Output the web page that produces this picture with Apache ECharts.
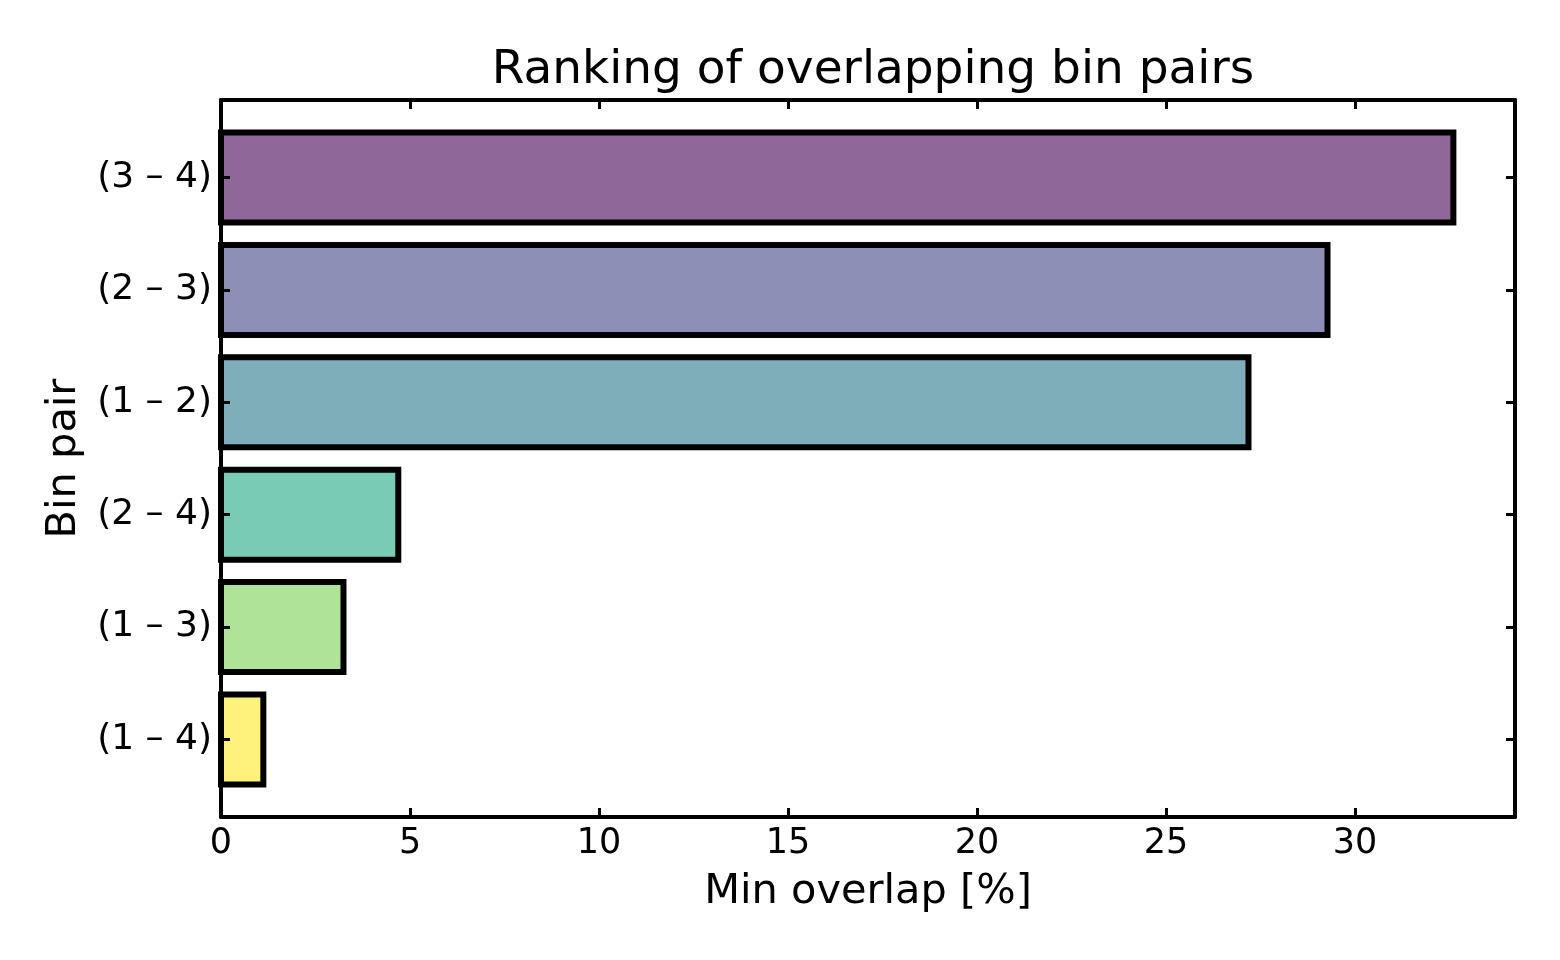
<!DOCTYPE html>
<html>
<head>
<meta charset="utf-8">
<script src="https://cdn.jsdelivr.net/npm/echarts@6/dist/echarts.min.js"></script>
<style>
html,body{margin:0;padding:0;background:#fff;}
#c{width:1560px;height:960px;}
</style>
</head>
<body>
<div id="c"></div>
<script>
// Data (bottom to top)
const categories = ['(1 – 4)', '(1 – 3)', '(2 – 4)', '(1 – 2)', '(2 – 3)', '(3 – 4)'];
const minOverlap = [1.12, 3.24, 4.69, 27.18, 29.27, 32.6];
const barColors = ['#fef17c', '#afe397', '#7acbb5', '#7faebb', '#8d8fb7', '#8f6798'];
const xTicks = [0, 5, 10, 15, 20, 25, 30];
const yTicks = [0, 1, 2, 3, 4, 5];

const FONT = 'DejaVu Sans';
const BAR_H = 0.8;
const yMin = -0.5 - (BAR_H / 2 - 0.5) - 0.05 * (categories.length - 1 + BAR_H);
const yMax = categories.length - 1 + BAR_H / 2 + 0.05 * (categories.length - 1 + BAR_H);
const xMax = Math.max(...minOverlap) * 1.05;

const chart = echarts.init(document.getElementById('c'), null, {renderer: 'canvas'});

const spine = {show: true, onZero: false, lineStyle: {color: '#000', width: 4}};
const tick = {show: true, inside: true, length: 9, lineStyle: {color: '#000', width: 3}};

const option = {
  backgroundColor: '#fff',
  animation: false,
  title: {
    text: 'Ranking of overlapping bin pairs',
    left: 868, top: 42, textAlign: 'center',
    textStyle: {fontFamily: FONT, fontSize: 47, fontWeight: 'normal', color: '#000'}
  },
  grid: {left: 221, right: 45, top: 100, bottom: 143, containLabel: false},
  xAxis: [
    {
      type: 'value', min: 0, max: xMax, position: 'bottom', z: 5,
      name: 'Min overlap [%]', nameLocation: 'middle', nameGap: 54,
      nameTextStyle: {fontFamily: FONT, fontSize: 41.5, color: '#000'},
      axisLine: spine, axisTick: Object.assign({}, tick, {customValues: xTicks}),
      axisLabel: {customValues: xTicks, fontFamily: FONT, fontSize: 35, color: '#000', margin: 9},
      splitLine: {show: false}
    },
    {
      type: 'value', min: 0, max: xMax, position: 'top', z: 5,
      axisLine: spine, axisTick: Object.assign({}, tick, {customValues: xTicks}),
      axisLabel: {show: false}, splitLine: {show: false}
    }
  ],
  yAxis: [
    {
      type: 'value', min: yMin, max: yMax, position: 'left', z: 5,
      name: 'Bin pair', nameLocation: 'middle', nameGap: 136, nameRotate: 90,
      nameTextStyle: {fontFamily: FONT, fontSize: 41.5, color: '#000'},
      axisLine: spine, axisTick: Object.assign({}, tick, {customValues: yTicks}),
      axisLabel: {
        customValues: yTicks, fontFamily: FONT, fontSize: 36, color: '#000', margin: 9,
        formatter: v => categories[Math.round(v)] || ''
      },
      splitLine: {show: false}
    },
    {
      type: 'value', min: yMin, max: yMax, position: 'right', z: 5,
      axisLine: spine, axisTick: Object.assign({}, tick, {customValues: yTicks}),
      axisLabel: {show: false}, splitLine: {show: false}
    }
  ],
  series: [{
    type: 'custom',
    xAxisIndex: 0, yAxisIndex: 0,
    clip: false, z: 2,
    data: minOverlap.map((v, i) => [v, i]),
    renderItem: function (params, api) {
      const v = api.value(0), idx = api.value(1);
      const p0 = api.coord([0, idx + BAR_H / 2]);
      const p1 = api.coord([v, idx - BAR_H / 2]);
      return {
        type: 'rect',
        shape: {x: p0[0], y: p0[1], width: p1[0] - p0[0], height: p1[1] - p0[1]},
        style: {fill: barColors[params.dataIndex], stroke: '#000', lineWidth: 6}
      };
    }
  }]
};
chart.setOption(option);
</script>
</body>
</html>
